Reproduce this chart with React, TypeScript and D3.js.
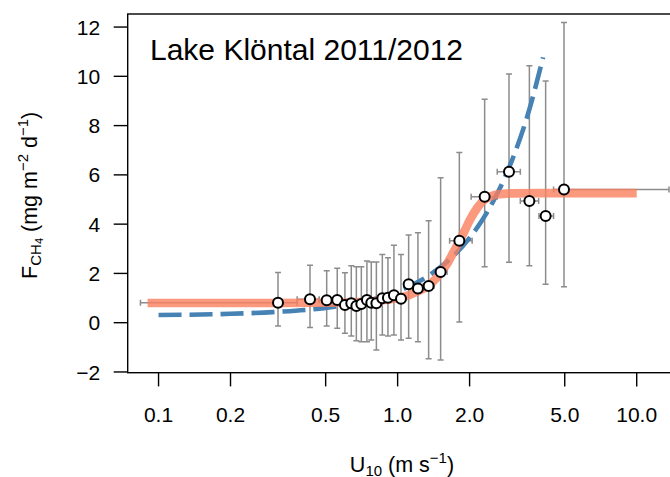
import React from 'react';
import * as d3 from 'd3';

// binned wind speed (U10, m/s) and CH4 flux (mg m-2 d-1)
const windSpeed = [0.316, 0.430, 0.505, 0.559, 0.602, 0.640, 0.672, 0.705, 0.744, 0.776, 0.815, 0.863, 0.911, 0.965, 1.033, 1.112, 1.216, 1.348, 1.513, 1.812, 2.312, 2.923, 3.557, 4.16, 4.965];
const windLow = [0.084, 0.38, 0.47, 0.53, 0.58, 0.62, 0.66, 0.69, 0.72, 0.76, 0.79, 0.84, 0.89, 0.94, 1.0, 1.07, 1.16, 1.28, 1.42, 1.65, 2.03, 2.61, 3.26, 3.9, 4.49];
const windHigh = [0.38, 0.47, 0.53, 0.58, 0.62, 0.66, 0.69, 0.72, 0.76, 0.79, 0.84, 0.89, 0.94, 1.0, 1.07, 1.16, 1.28, 1.42, 1.61, 2.05, 2.61, 3.26, 3.89, 4.49, 13.65];
const fluxMean = [0.81, 0.95, 0.91, 0.92, 0.72, 0.79, 0.68, 0.76, 0.92, 0.81, 0.79, 0.99, 1.01, 1.11, 0.97, 1.56, 1.39, 1.49, 2.06, 3.33, 5.11, 6.13, 4.94, 4.33, 5.41];
const fluxLow = [-0.13, -0.20, -0.13, -0.23, -0.43, -0.54, -0.73, -0.77, -0.77, -0.70, -1.11, -0.50, -0.54, -0.50, -0.70, -0.63, -0.77, -1.46, -1.51, 0.03, 2.27, 2.45, 2.31, 1.56, 1.46];
const fluxHigh = [2.04, 2.33, 2.11, 2.21, 2.03, 2.31, 2.27, 2.27, 2.50, 2.46, 2.46, 2.77, 2.64, 3.14, 2.77, 3.56, 3.65, 4.14, 5.88, 6.91, 9.07, 10.09, 10.43, 9.81, 12.19];

// sigmoid fit (orange)
const sigU = [0.09, 0.3, 0.5, 0.7, 0.9, 1.0, 1.1, 1.2, 1.3, 1.4, 1.5, 1.6, 1.7, 1.8, 1.9, 2.0, 2.15, 2.3, 2.45, 2.6, 3.0, 4.0, 10.0];
const sigF = [0.80, 0.80, 0.81, 0.84, 0.93, 1.00, 1.10, 1.25, 1.42, 1.65, 1.97, 2.35, 2.80, 3.25, 3.70, 4.15, 4.65, 4.98, 5.12, 5.20, 5.25, 5.26, 5.26];

// power fit (blue dashed)
const powU = [0.1, 0.2, 0.3, 0.5, 0.7, 1.0, 1.3, 1.6, 2.0, 2.5, 3.0, 3.5, 4.06];
const powF = [0.31, 0.36, 0.43, 0.60, 0.83, 1.27, 1.81, 2.45, 3.44, 4.89, 6.56, 8.43, 10.77];

const xTicks = [0.1, 0.2, 0.5, 1, 2, 5, 10];
const xTickLabels = ['0.1', '0.2', '0.5', '1.0', '2.0', '5.0', '10.0'];
const yTicks = [-2, 0, 2, 4, 6, 8, 10, 12];

const W = 670;
const H = 477;
const FONT = '"Liberation Sans", Arial, Helvetica, sans-serif';

export default function App() {
  const left = 127.7, right = 676, top = 14, bottom = 372.7;

  const x = d3.scaleLog().domain([0.0743, 14.6]).range([left, right]);
  const y = d3.scaleLinear().domain([-2.03, 12.53]).range([bottom, top]);

  const line = d3.line<[number, number]>()
    .x(d => x(d[0]))
    .y(d => y(d[1]))
    .curve(d3.curveMonotoneX);

  const sigPath = line(sigU.map((u, i) => [u, sigF[i]]));
  const powPath = line(powU.map((u, i) => [u, powF[i]]));

  const errColor = '#8c8c8c';
  const cap = 3;

  return (
    <svg width={W} height={H} style={{ position: 'absolute', left: 0, top: 0, background: '#fff' }}
      fontFamily={FONT}>
      <defs>
        <clipPath id="plot">
          <rect x={left} y={top} width={right - left} height={bottom - top} />
        </clipPath>
      </defs>

      {/* error bars */}
      <g stroke={errColor} strokeWidth={1.5} fill="none" clipPath="url(#plot)">
        {windSpeed.map((u, i) => (
          <g key={i}>
            <line x1={x(u)} x2={x(u)} y1={y(fluxLow[i])} y2={y(fluxHigh[i])} />
            <line x1={x(u) - cap} x2={x(u) + cap} y1={y(fluxLow[i])} y2={y(fluxLow[i])} />
            <line x1={x(u) - cap} x2={x(u) + cap} y1={y(fluxHigh[i])} y2={y(fluxHigh[i])} />
            <line x1={x(windLow[i])} x2={x(windHigh[i])} y1={y(fluxMean[i])} y2={y(fluxMean[i])} />
            <line x1={x(windLow[i])} x2={x(windLow[i])} y1={y(fluxMean[i]) - cap} y2={y(fluxMean[i]) + cap} />
            <line x1={x(windHigh[i])} x2={x(windHigh[i])} y1={y(fluxMean[i]) - cap} y2={y(fluxMean[i]) + cap} />
          </g>
        ))}
      </g>

      {/* fits */}
      <path d={powPath || ''} fill="none" stroke="#4682b4" strokeWidth={4.6} strokeDasharray="23 8" />
      <path d={sigPath || ''} fill="none" stroke="#fa805f" strokeOpacity={0.8} strokeWidth={8.7} />

      {/* points */}
      {windSpeed.map((u, i) => (
        <circle key={i} cx={x(u)} cy={y(fluxMean[i])} r={5} fill="#fff" stroke="#000" strokeWidth={2} />
      ))}

      {/* box */}
      <rect x={left} y={top} width={right - left} height={bottom - top} fill="none" stroke="#000" strokeWidth={1.4} />

      {/* x axis */}
      <g>
        {xTicks.map((t, i) => (
          <g key={t}>
            <line x1={x(t)} x2={x(t)} y1={bottom} y2={bottom + 13.7} stroke="#000" strokeWidth={1.4} />
            <text x={x(t)} y={bottom + 49} textAnchor="middle" fontSize={21}>{xTickLabels[i]}</text>
          </g>
        ))}
      </g>

      {/* y axis */}
      <g>
        {yTicks.map(t => (
          <g key={t}>
            <line x1={left - 14} x2={left} y1={y(t)} y2={y(t)} stroke="#000" strokeWidth={1.4} />
            <text x={left - 27.5} y={y(t)} dy="0.36em" textAnchor="end" fontSize={21}>
              {t < 0 ? '\u2212' + Math.abs(t) : String(t)}
            </text>
          </g>
        ))}
      </g>

      {/* axis titles */}
      <text x={402} y={471.5} textAnchor="middle" fontSize={21.5}>
        U<tspan fontSize={15} dy={4}>10</tspan>
        <tspan fontSize={21.5} dy={-4}>{' (m s'}</tspan>
        <tspan fontSize={15} dy={-9}>{'\u22121'}</tspan>
        <tspan fontSize={21.5} dy={9}>)</tspan>
      </text>

      <text transform={`translate(37,${(top + bottom) / 2 + 2}) rotate(-90)`} textAnchor="middle" fontSize={21.5}>
        F<tspan fontSize={15} dy={4}>CH</tspan>
        <tspan fontSize={11} dy={2}>4</tspan>
        <tspan fontSize={21.5} dy={-6}>{' (mg m'}</tspan>
        <tspan fontSize={15} dy={-9}>{'\u22122'}</tspan>
        <tspan fontSize={21.5} dy={9}>{' d'}</tspan>
        <tspan fontSize={15} dy={-9}>{'\u22121'}</tspan>
        <tspan fontSize={21.5} dy={9}>)</tspan>
      </text>

      <text x={150} y={60} fontSize={30}>Lake Klöntal 2011/2012</text>
    </svg>
  );
}
